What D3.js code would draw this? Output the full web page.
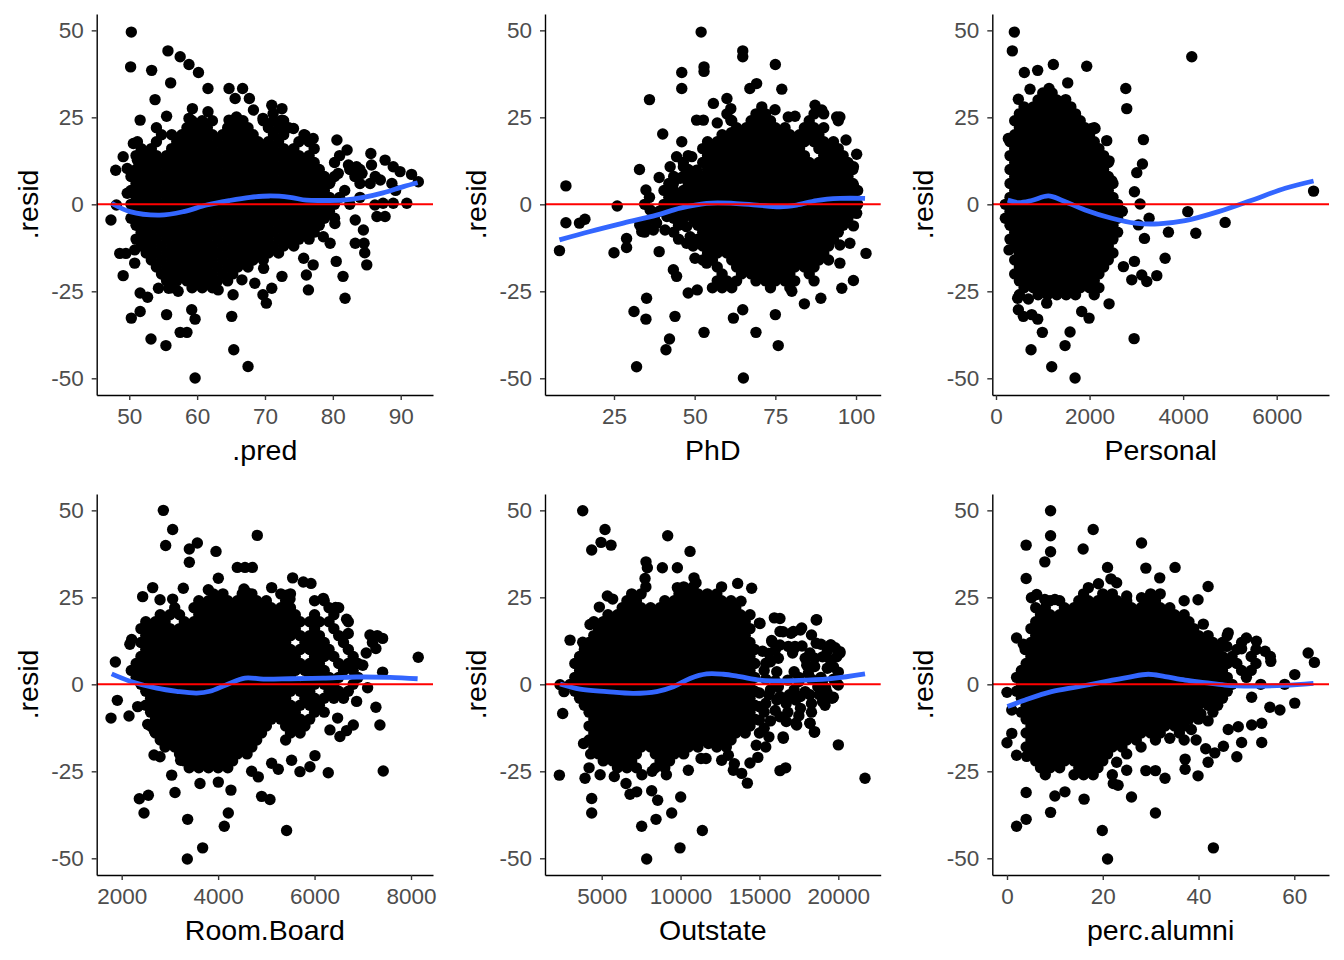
<!DOCTYPE html>
<html><head><meta charset="utf-8">
<script src="https://cdn.jsdelivr.net/npm/d3@7"></script>
<style>
body{margin:0;background:#fff}
svg{display:block}
text{font-family:"Liberation Sans",Arial,Helvetica,sans-serif}
</style>
</head><body>
<svg id="chart" width="1344" height="960"></svg>
<script>
// ---------- data ----------
const residTicks = [-50, -25, 0, 25, 50];

// .pred panel
const predTicks = [50, 60, 70, 80, 90];
const predPoints = [[50.3,49.5],[50.2,39.5],[55.7,44.1],[57.5,42.4],[58.8,40.2],[60.2,37.9],[53.3,38.5],[56.1,34.9],[53.8,30.1],[61.6,33.3],[64.7,33.3],[66.7,33.3],[65.6,30.4],[67.7,30.4],[51.6,24.2],[55.5,25.3],[54.0,22.0],[59.3,27.5],[61.6,26.6],[58.8,24.7],[64.7,24.2],[65.8,25.1],[68.3,27.1],[69.7,24.7],[71.0,28.5],[72.5,27.5],[71.2,26.1],[72.5,24.2],[74.2,21.8],[75.9,19.9],[77.1,18.9],[80.6,18.5],[82.1,15.6],[85.6,14.6],[85.7,11.3],[87.7,12.7],[88.9,10.8],[89.9,9.4],[91.6,8.6],[92.6,6.5],[90.9,0.3],[86.5,-3.5],[87.7,-3.5],[83.3,-4.5],[84.5,-7.4],[85.0,-17.4],[83.3,-11.2],[84.6,-11.2],[84.7,-13.9],[81.5,-20.7],[81.8,-27.0],[80.5,-16.4],[78.6,-9.3],[79.6,-11.2],[76.1,-20.3],[76.4,-24.6],[77.1,-17.4],[75.7,-15.5],[72.5,-20.7],[70.2,-28.4],[69.7,-26.0],[71.0,-24.1],[68.5,-22.7],[69.8,-18.4],[67.5,-46.6],[59.7,-49.9],[65.4,-41.8],[65.1,-32.2],[66.6,-21.7],[65.3,-26.0],[61.6,-21.7],[63.1,-24.6],[59.7,-33.0],[59.2,-30.3],[58.5,-36.8],[57.5,-36.8],[55.5,-31.7],[55.4,-40.6],[53.2,-38.7],[50.3,-32.7],[51.6,-30.8],[51.6,-25.5],[52.7,-26.7],[49.1,-20.5],[48.6,-14.1],[49.5,-14.1],[50.8,-13.1],[50.8,-16.9],[47.3,-4.5],[48.1,-0.2],[49.7,3.2],[48.0,9.8],[49.1,13.7],[49.7,10.3],[50.6,17.5],[51.2,18.0],[51.2,12.7],[54.3,-24.1],[55.8,-24.1],[57.2,-25.0],[55.3,-20.7],[79.6,6.5],[80.8,8.9],[82.3,11.3],[83.5,10.8],[84.3,8.9],[87.0,7.0],[88.7,6.0],[87.4,0.3],[88.9,0.3],[86.2,-0.2],[78.1,-1.6],[80.3,-5.5]];
const predRows = [
 [24,[59.25,60.75,62.25,65.25,66.75,69.75,71.25,72.75]],
 [22,[58.5,60,61.5,64.5,66,67.5,70.5,72,73.5]],
 [20,[54.75,56.25,57.75,59.25,60.75,62.25,63.75,65.25,66.75,68.25,71.25,72.75,75.75]],
 [18,[54,57,58.5,60,61.5,63,64.5,66,67.5,69,70.5,72,75,76.5]],
 [16,[51.75,53.25,56.25,57.75,59.25,60.75,62.25,63.75,65.25,66.75,68.25,69.75,71.25,72.75,74.25,77.25]],
 [14,[51,52.5,54,55.5,57,58.5,60,61.5,63,64.5,66,67.5,69,70.5,72,73.5,75,76.5,81]],
 [12,[51.75,53.25,54.75,56.25,57.75,59.25,60.75,62.25,63.75,65.25,66.75,68.25,69.75,71.25,72.75,74.25,75.75,77.25,80.25]],
 [10,[51,52.5,54,55.5,57,58.5,60,61.5,63,64.5,66,67.5,69,70.5,72,73.5,75,76.5,78,82.5,84]],
 [8,[50.25,51.75,53.25,54.75,56.25,57.75,59.25,60.75,62.25,63.75,65.25,66.75,68.25,69.75,71.25,72.75,74.25,75.75,77.25,78.75,80.25,83.25,86.25]],
 [6,[51,52.5,54,55.5,57,58.5,60,61.5,63,64.5,66,67.5,69,70.5,72,73.5,75,76.5,78,79.5,84,85.5]],
 [4,[50.25,51.75,53.25,54.75,56.25,57.75,59.25,60.75,62.25,63.75,65.25,66.75,68.25,69.75,71.25,72.75,74.25,75.75,77.25,78.75,81.75,89.25]],
 [2,[51,52.5,54,55.5,57,58.5,60,61.5,63,64.5,66,67.5,69,70.5,72,73.5,75,76.5,78,79.5,81,84]],
 [0,[50.25,51.75,53.25,54.75,56.25,57.75,59.25,60.75,62.25,63.75,65.25,66.75,68.25,69.75,71.25,72.75,74.25,75.75,77.25,78.75,80.25,82.5]],
 [-2,[51,52.5,54,55.5,57,58.5,60,61.5,63,64.5,66,67.5,69,70.5,72,73.5,75,76.5,78,79.5]],
 [-4,[50.25,51.75,53.25,54.75,56.25,57.75,59.25,60.75,62.25,63.75,65.25,66.75,68.25,69.75,71.25,72.75,74.25,75.75,77.25,78.75,80.25]],
 [-6,[51,52.5,54,55.5,57,58.5,60,61.5,63,64.5,66,67.5,69,70.5,72,73.5,75,76.5,78]],
 [-8,[51.75,53.25,54.75,56.25,57.75,59.25,60.75,62.25,63.75,65.25,66.75,68.25,69.75,71.25,72.75,74.25,75.75,77.25]],
 [-10,[51,52.5,54,55.5,57,58.5,60,61.5,63,64.5,66,67.5,69,70.5,72,73.5,75,76.5]],
 [-12,[51.75,53.25,54.75,56.25,57.75,59.25,60.75,62.25,63.75,65.25,66.75,68.25,69.75,71.25,72.75,74.25]],
 [-14,[52.5,54,55.5,57,58.5,60,61.5,63,64.5,66,67.5,69,70.5,72]],
 [-16,[53.25,54.75,56.25,57.75,59.25,60.75,62.25,63.75,65.25,66.75,68.25,69.75]],
 [-18,[54,55.5,57,58.5,60,61.5,63,64.5,66,67.5]],
 [-20,[54.75,56.25,57.75,59.25,60.75,62.25,63.75,65.25]],
 [-22,[55.5,57,58.5,60,61.5,63,64.5]],
 [-24,[56.25,59.25,60.75,62.25]]
];
const predSmooth = [[47.4,0.3],[50.1,-2.1],[54.5,-3.1],[58.0,-2.1],[61.4,-0.2],[64.8,1.1],[67.8,2.0],[70.7,2.4],[73.7,2.0],[76.1,1.2],[78.6,1.1],[81.5,1.2],[84.5,2.0],[87.4,3.3],[90.4,5.1],[92.5,6.2]];

// PhD panel
const phdTicks = [25, 50, 75, 100];
const phdPoints = [[52.0,49.5],[64.9,44.1],[64.9,42.4],[52.9,39.5],[52.9,38.2],[75.0,40.2],[46.0,37.9],[46.0,33.3],[67.1,33.3],[69.2,34.7],[77.0,33.1],[36.0,30.1],[40.1,20.2],[46.0,18.0],[32.9,10.0],[39.0,7.7],[34.9,4.1],[41.8,4.1],[10.1,5.3],[26.0,-0.5],[10.1,-5.3],[14.3,-5.4],[16.0,-4.3],[8.1,-13.3],[25.0,-13.9],[28.9,-9.8],[28.9,-12.4],[39.0,-13.6],[33.1,-5.4],[33.6,-7.8],[37.2,-7.4],[36.2,-1.6],[43.4,-18.8],[44.4,-20.7],[48.0,-25.5],[50.8,-24.6],[35.1,-27.0],[34.9,-33.0],[31.2,-30.8],[43.9,-32.2],[42.2,-38.7],[41.1,-41.8],[32.0,-46.7],[52.9,-36.8],[62.0,-32.7],[64.9,-30.3],[69.0,-36.8],[65.1,-49.9],[75.9,-40.6],[75.0,-31.7],[84.0,-28.6],[89.1,-27.0],[80.1,-25.0],[95.6,-24.1],[99.2,-21.9],[103.1,-14.1],[55.8,29.0],[60.0,30.4],[61.2,27.5],[50.6,24.2],[52.7,24.2],[57.0,23.4],[61.2,24.2],[61.4,20.6],[70.8,28.0],[74.9,27.2],[70.3,25.1],[87.3,28.5],[89.4,27.1],[94.0,25.1],[95.0,25.1],[79.0,25.1],[81.1,25.3],[96.9,18.5],[100.2,14.4],[99.2,10.8],[99.2,5.5],[100.2,-2.6],[99.2,-6.2],[98.1,-11.2],[95.0,-11.7],[95.0,-16.9],[49.1,13.7],[46.5,10.8],[44.4,13.7],[42.4,10.8],[50.6,9.8],[51.1,6.0],[45.5,7.5],[43.4,6.0],[38.2,-5.4],[40.8,-7.4],[35.1,-5.4],[41.4,-3.5],[47.5,-11.2],[50.1,-15.5],[53.7,-16.9],[47.5,-6.4],[48.6,-9.3],[50.6,-5.4]];
const phdRows = [
 [26,[60,69,72,87,90]],
 [24,[61.5,67.5,70.5,73.5,85.5,94.5]],
 [22,[63,66,69,72,75,78,84,87,90]],
 [20,[58.5,61.5,64.5,67.5,70.5,73.5,76.5,79.5,82.5,85.5,88.5]],
 [18,[54,57,60,63,66,69,72,75,78,81,84,87,90,93]],
 [16,[52.5,55.5,58.5,61.5,64.5,67.5,70.5,73.5,76.5,79.5,82.5,88.5,91.5,94.5]],
 [14,[48,54,57,60,63,66,69,72,75,78,81,84,90,93,96]],
 [12,[46.5,52.5,55.5,58.5,61.5,64.5,67.5,70.5,73.5,76.5,79.5,82.5,85.5,88.5,91.5,94.5,97.5]],
 [10,[48,54,57,60,63,66,69,72,75,78,81,84,87,90,93,96,99]],
 [8,[43.5,46.5,49.5,52.5,55.5,58.5,61.5,64.5,67.5,70.5,73.5,76.5,79.5,82.5,85.5,88.5,91.5,94.5,97.5]],
 [6,[42,48,51,54,57,60,63,66,69,72,75,78,81,84,87,90,93,96,99]],
 [4,[40.5,43.5,46.5,49.5,52.5,55.5,58.5,61.5,64.5,67.5,70.5,73.5,76.5,79.5,82.5,85.5,88.5,91.5,94.5,97.5,100.5]],
 [2,[36,42,45,48,51,54,57,60,63,66,69,72,75,78,81,84,87,90,93,96,99]],
 [0,[34.5,40.5,43.5,46.5,49.5,52.5,55.5,58.5,61.5,64.5,67.5,70.5,73.5,76.5,79.5,82.5,85.5,88.5,91.5,94.5,97.5,100.5]],
 [-2,[39,42,45,48,51,54,57,60,63,66,69,72,75,78,81,84,87,90,93,96,99]],
 [-4,[37.5,43.5,46.5,49.5,52.5,55.5,58.5,61.5,64.5,67.5,70.5,73.5,76.5,79.5,82.5,85.5,88.5,91.5,94.5,97.5]],
 [-6,[33,45,51,54,57,60,63,66,69,72,75,78,81,84,87,90,93,96]],
 [-8,[34.5,43.5,52.5,55.5,58.5,61.5,64.5,67.5,70.5,73.5,76.5,79.5,82.5,85.5,88.5,91.5,94.5]],
 [-10,[45,51,54,57,60,63,66,69,72,75,78,81,84,87,90,93]],
 [-12,[49.5,52.5,55.5,58.5,61.5,64.5,67.5,70.5,73.5,76.5,79.5,82.5,85.5,88.5,91.5]],
 [-14,[54,57,60,63,66,69,72,75,78,81,84,87,90]],
 [-16,[52.5,55.5,61.5,64.5,67.5,70.5,73.5,76.5,79.5,82.5,85.5,88.5,91.5]],
 [-18,[57,63,66,69,72,75,78,81,84,87]],
 [-20,[58.5,64.5,67.5,70.5,73.5,76.5,79.5,85.5]],
 [-22,[57,60,63,69,72,75,78,81,87]],
 [-24,[55.5,58.5,61.5,73.5,79.5]]
];
const phdSmooth = [[8.1,-10.2],[17.6,-7.8],[27.9,-5.4],[38.2,-3.1],[45.5,-1.1],[53.7,0.3],[62.0,0.3],[69.2,-0.2],[76.4,-0.7],[81.6,-0.2],[87.8,1.1],[95.0,1.7],[102.8,1.7]];

// Personal panel
const personalTicks = [0, 2000, 4000, 6000];
const personalPoints = [[392,49.5],[349,44.1],[606,37.9],[891,38.5],[1226,40.2],[1939,39.7],[727,33.1],[1134,33.3],[1533,34.9],[478,30.2],[1490,30.1],[2774,33.3],[2795,27.5],[4185,42.4],[3151,18.6],[3130,11.6],[3009,9.1],[2959,3.6],[3080,0.1],[3273,-4.0],[3686,-8.0],[4100,-2.1],[4271,-8.3],[4898,-5.2],[6788,3.8],[3615,-15.5],[3437,-20.5],[3223,-22.2],[3116,-20.3],[2959,-16.4],[2902,-21.7],[2724,-17.9],[2417,-28.6],[2952,-38.6],[1583,-36.7],[1476,-40.6],[1191,-46.7],[1690,-49.9],[749,-41.8],[991,-36.8],[478,-30.3],[585,-32.2],[763,-31.7],[891,-33.0],[1832,-30.8],[1989,-32.7],[463,-27.0],[692,-27.2],[1084,-28.4],[278,-13.1],[264,18.9],[3044,-5.9],[3173,-9.8],[2367,18.3],[2417,12.5],[2474,6.8],[2046,21.8],[2117,21.8],[1704,24.4]];
const personalRows = [
 [32,[1000,1200]],
 [30,[900,1100,1300]],
 [28,[600,800,1000,1200,1400,1600]],
 [26,[500,700,900,1100,1300,1500,1700]],
 [24,[400,600,800,1000,1200,1400,1600,1800]],
 [22,[500,700,900,1100,1300,1500,1700,1900,2100]],
 [20,[400,600,800,1000,1200,1400,1600,1800,2000]],
 [18,[300,500,700,900,1100,1300,1500,1700,1900,2100]],
 [16,[400,600,800,1000,1200,1400,1600,1800,2000,2200]],
 [14,[300,500,700,900,1100,1300,1500,1700,1900,2100,2300]],
 [12,[400,600,800,1000,1200,1400,1600,1800,2000,2200,2400]],
 [10,[300,500,700,900,1100,1300,1500,1700,1900,2100,2300]],
 [8,[400,600,800,1000,1200,1400,1600,1800,2000,2200,2400]],
 [6,[300,500,700,900,1100,1300,1500,1700,1900,2100,2300,2500]],
 [4,[400,600,800,1000,1200,1400,1600,1800,2000,2200,2400]],
 [2,[300,500,700,900,1100,1300,1500,1700,1900,2100,2300,2500]],
 [0,[200,400,600,800,1000,1200,1400,1600,1800,2000,2200,2400,2600]],
 [-2,[300,500,700,900,1100,1300,1500,1700,1900,2100,2300,2500,2700]],
 [-4,[200,400,600,800,1000,1200,1400,1600,1800,2000,2200,2400,2600]],
 [-6,[300,500,700,900,1100,1300,1500,1700,1900,2100,2300,2500]],
 [-8,[400,600,800,1000,1200,1400,1600,1800,2000,2200,2400,2600]],
 [-10,[300,500,700,900,1100,1300,1500,1700,1900,2100,2300,2500]],
 [-12,[400,600,800,1000,1200,1400,1600,1800,2000,2200,2400]],
 [-14,[500,700,900,1100,1300,1500,1700,1900,2100,2300,2500]],
 [-16,[400,600,800,1000,1200,1400,1600,1800,2000,2200,2400]],
 [-18,[500,700,900,1100,1300,1500,1700,1900,2100,2300]],
 [-20,[400,600,800,1000,1200,1400,1600,1800,2000,2200]],
 [-22,[500,700,900,1100,1300,1500,1700,1900,2100]],
 [-24,[600,800,1000,1200,1400,1600,1800,2000,2200]],
 [-26,[500,900,1100,1300,1500,1700,2100]]
];
const personalSmooth = [[250,1.2],[478,0.5],[763,1.1],[1119,2.4],[1404,1.2],[1904,-1.6],[2474,-4.0],[2973,-5.4],[3472,-5.6],[4043,-4.7],[4756,-2.1],[5469,1.2],[6182,4.6],[6788,6.7]];

// Room.Board panel
const roomTicks = [2000, 4000, 6000, 8000];
const roomPoints = [[2864,50.0],[3057,44.5],[2912,39.9],[3403,38.9],[3569,40.6],[3403,35.1],[3956,38.2],[4812,42.8],[4398,33.6],[4557,33.6],[4709,33.6],[4004,30.5],[2643,27.8],[2435,25.2],[2795,24.3],[3057,24.5],[3278,27.6],[3797,27.2],[4536,27.4],[4591,26.4],[5110,27.8],[5545,30.6],[5766,29.4],[5925,29.0],[5421,25.6],[5490,24.5],[6181,24.7],[6436,22.1],[6664,18.7],[6699,14.6],[7148,14.2],[7411,13.2],[7272,10.3],[8150,7.8],[7411,3.5],[7071,9.0],[1869,6.4],[2207,12.9],[2170,11.5],[1910,-4.6],[1779,-9.7],[2152,-9.1],[2332,-6.4],[7272,-6.6],[7355,-11.7],[7424,-24.9],[6284,-25.4],[5697,-25.1],[5904,-23.7],[6008,-20.5],[5524,-21.8],[5420,-42.0],[5075,-33.1],[4902,-32.2],[4695,-25.0],[4833,-26.6],[4266,-30.4],[4211,-37.0],[4128,-40.8],[3679,-47.0],[3361,-50.2],[3368,-38.8],[3106,-31.1],[3037,-26.1],[3624,-28.5],[4004,-28.1],[2553,-31.9],[2366,-32.9],[2463,-37.0],[3223,-21.8],[2670,-20.3],[2795,-20.8],[5110,-22.7],[5248,-24.4],[6478,-9.7],[6526,-15.0],[6664,-13.3],[6803,-11.7],[6319,-13.1],[6872,-4.9],[2540,-11.5],[2680,-13.5],[7000,5.5],[7100,-1.0]];
const roomRows = [
 [26,[3900,4100,4500,4700,5300,5500]],
 [24,[3600,3800,4000,4200,4400,4600,4800,5000,5400,6000,6200]],
 [22,[3100,3500,3700,3900,4100,4300,4500,4700,4900,5100,5300,5500,6300,6500]],
 [20,[2800,3000,3200,3600,3800,4000,4200,4400,4600,4800,5000,5200,5400,5600,6000,6400]],
 [18,[2500,2700,2900,3300,3500,3700,3900,4100,4300,4500,4700,4900,5100,5300,5500,5700,5900,6100,6300,6700]],
 [16,[2400,2600,2800,3000,3200,3400,3600,3800,4000,4200,4400,4600,4800,5000,5200,5400,5600,6000,6400]],
 [14,[2500,2700,2900,3100,3300,3500,3700,3900,4100,4300,4500,4700,4900,5100,5300,5500,5700,5900,6100,6500,7300]],
 [12,[2400,2600,2800,3000,3200,3400,3600,3800,4000,4200,4400,4600,4800,5000,5200,5400,5800,6000,6200,6600,7200]],
 [10,[2500,2700,2900,3100,3300,3500,3700,3900,4100,4300,4500,4700,4900,5100,5300,5500,5700,5900,6100,6300,6700]],
 [8,[2400,2600,2800,3000,3200,3400,3600,3800,4000,4200,4400,4600,4800,5000,5200,5400,5600,6000,6200,6400,6800]],
 [6,[2300,2500,2700,2900,3100,3300,3500,3700,3900,4100,4300,4500,4700,4900,5100,5300,5500,5700,5900,6100,6500,6700,6900]],
 [4,[2200,2400,2600,2800,3000,3200,3400,3600,3800,4000,4200,4400,4600,4800,5000,5200,5400,5600,5800,6000,6200,6600,6800]],
 [2,[2300,2500,2700,2900,3100,3300,3500,3700,3900,4100,4300,4500,4700,4900,5100,5300,5500,5900,6100,6300,6500,6900]],
 [0,[2400,2600,2800,3000,3200,3400,3600,3800,4000,4200,4400,4600,4800,5000,5200,5400,5600,5800,6000,6200,6400,6800]],
 [-2,[2500,2700,2900,3100,3300,3500,3700,3900,4100,4300,4500,4700,4900,5100,5300,5500,5700,5900,6300,6500,6700]],
 [-4,[2600,2800,3000,3200,3400,3600,3800,4000,4200,4400,4600,4800,5000,5200,5400,5800,6000,6200,6400,6600]],
 [-6,[2500,2700,2900,3100,3300,3500,3700,3900,4100,4300,4500,4700,4900,5100,5300,5500,5700,5900,6100]],
 [-8,[2600,2800,3000,3200,3400,3600,3800,4000,4200,4400,4600,4800,5000,5200,5400,5600,6000,6200]],
 [-10,[2700,2900,3100,3300,3500,3700,3900,4100,4300,4500,4700,4900,5100,5300,5500,5700,5900]],
 [-12,[2600,2800,3000,3200,3400,3600,3800,4000,4200,4400,4600,4800,5000,5400,5600,5800]],
 [-14,[2700,2900,3100,3300,3500,3700,3900,4100,4300,4500,4700,4900,5500,5700]],
 [-16,[2800,3000,3200,3400,3600,3800,4000,4200,4400,4600,4800,5400]],
 [-18,[2900,3100,3300,3500,3700,3900,4100,4300,4500,4700]],
 [-20,[3200,3400,3600,3800,4000,4200,4400,4600]],
 [-22,[3300,3500,3700,3900,4100,4300]],
 [-24,[3400,3600,3800,4000,4200]]
];
const roomSmooth = [[1793,3.0],[2173,0.9],[2726,-1.1],[3140,-2.0],[3555,-2.5],[3831,-2.0],[4177,-0.1],[4557,1.8],[4937,1.5],[5490,1.6],[6181,1.8],[6872,2.1],[7563,2.0],[8137,1.6]];

// Outstate panel
const outTicks = [5000, 10000, 15000, 20000];
const outPoints = [[3796,49.9],[5211,44.5],[4366,38.6],[4958,40.8],[5592,40.0],[9184,42.7],[10600,38.2],[7810,35.2],[7895,33.5],[8846,33.5],[9797,33.5],[7747,30.4],[10853,30.6],[10980,29.2],[9797,27.8],[13621,29.0],[14508,27.6],[5359,25.4],[5697,24.5],[4852,22.2],[4260,17.2],[5063,17.8],[2993,12.7],[3796,12.1],[13832,23.9],[14403,20.0],[15037,17.5],[15945,19.1],[18629,18.6],[16305,15.2],[17150,15.2],[17678,16.2],[15776,12.6],[16833,10.9],[17256,10.9],[19538,11.3],[20108,9.0],[19897,0.3],[19686,-3.7],[19157,-6.0],[18206,-11.2],[18480,-13.8],[17361,-11.7],[16516,-15.5],[20002,-17.4],[16305,-24.8],[16664,-24.0],[21693,-27.0],[14234,-28.4],[13875,-25.6],[13347,-24.7],[13410,-22.8],[12607,-21.8],[13030,-20.4],[11297,-21.3],[11614,-21.3],[11762,-17.0],[10494,-24.7],[10008,-32.4],[9437,-37.0],[11382,-42.0],[9965,-47.0],[7852,-50.2],[7535,-40.8],[8444,-38.8],[6796,-31.6],[7219,-30.9],[8169,-30.6],[8550,-33.3],[6542,-28.5],[4366,-32.8],[4366,-37.0],[3944,-27.0],[2317,-26.1],[2528,-8.4],[2613,-2.1],[2359,-0.1],[9100,-26.0],[8200,-25.0],[7550,-26.0],[5800,-26.5],[4900,-26.0],[4200,-24.0],[3850,-17.0],[4300,-20.0],
 [16300,18.9],[18600,18.5],[15000,17.6],[16500,15.1],[17600,15.6],[17000,14.7],[18300,14.2],[18600,11.8],[15800,12.2],[16300,11.3],[17200,10.3],[19500,11.3],[20100,9.4],[15600,8.9],[16200,7.5],[15700,6.5],[17900,7.5],[19000,7.9],[19500,7.0],[19900,7.9],[18500,5.1],[19300,4.6],[16100,3.6],[17200,3.6],[18100,3.2],[15300,4.0],[18700,-0.7],[20000,-0.2],[19200,-1.1],[17200,-1.6],[17900,-2.1],[16200,-0.7],[15700,-1.6],[15400,1.5],[16000,1.0],[16800,1.2],[17500,0.8],[18300,1.5],[19000,1.0],[19700,1.5],[19600,-4.0],[19000,-5.0],[18300,-5.5],[17300,-4.5],[16700,-5.5],[17600,-6.9],[16100,-4.5],[15400,-5.5],[15000,-6.4],[16300,-9.3],[16700,-10.7],[17300,-11.2],[18200,-11.2],[18500,-13.6],[15000,-10.3],[15300,-12.6],[15600,-15.1],[16500,-15.1],
 [15200,9.5],[16000,9.8],[15400,6.0],[17700,11.0],[18200,9.0],[18900,11.5],[19300,9.5],[19800,10.5],[18000,5.5],[18500,7.5],[19700,5.0],[20000,3.5],[17500,2.0],[18900,2.0],[17100,9.0],[15000,-2.5],[15600,-3.0],[16300,-3.5],[16900,-3.0],[17600,-3.5],[18200,-3.0],[18800,-3.0],[19300,-2.5],[15300,-8.0],[16000,-7.5],[16800,-8.0],[17500,-9.0],[18300,-8.0],[15700,-10.5],[15000,-14.0],[14800,-17.5],[15400,-18.0],[14900,-21.0],[14400,-22.6]];
const outRows = [
 [28,[7800,10200,10800,12600]],
 [26,[6900,7500,9900,10500,11100,11700,12300]],
 [24,[6600,7200,9000,9600,10200,10800,11400,12000,12600,13200]],
 [22,[6300,6900,7500,8100,8700,9300,9900,10500,11100,11700,12300,12900,13500]],
 [20,[5400,6000,6600,7200,7800,8400,9000,9600,10200,10800,11400,12000,12600,13200,13800]],
 [18,[4500,5100,5700,6300,6900,7500,8100,8700,9300,9900,10500,11100,11700,12300,12900,13500,14100]],
 [16,[4800,5400,6000,6600,7200,7800,8400,9000,9600,10200,10800,11400,12000,12600,13200,13800,14400]],
 [14,[4500,5100,5700,6300,6900,7500,8100,8700,9300,9900,10500,11100,11700,12300,12900,13500,14100]],
 [12,[4200,4800,5400,6000,6600,7200,7800,8400,9000,9600,10200,10800,11400,12000,12600,13200,13800,14400]],
 [10,[3900,4500,5100,5700,6300,6900,7500,8100,8700,9300,9900,10500,11100,11700,12300,12900,13500,14100,14700]],
 [8,[3600,4200,4800,5400,6000,6600,7200,7800,8400,9000,9600,10200,10800,11400,12000,12600,13200,13800,14400]],
 [6,[3300,3900,4500,5100,5700,6300,6900,7500,8100,8700,9300,9900,10500,11100,11700,12300,12900,13500,14100,14700]],
 [4,[3600,4200,4800,5400,6000,6600,7200,7800,8400,9000,9600,10200,10800,11400,12000,12600,13200,13800,14400]],
 [2,[3300,3900,4500,5100,5700,6300,6900,7500,8100,8700,9300,9900,10500,11100,11700,12300,12900,13500,14100,14700]],
 [0,[3000,3600,4200,4800,5400,6000,6600,7200,7800,8400,9000,9600,10200,10800,11400,12000,12600,13200,13800,14400]],
 [-2,[3300,3900,4500,5100,5700,6300,6900,7500,8100,8700,9300,9900,10500,11100,11700,12300,12900,13500,14100,14700]],
 [-4,[3600,4200,4800,5400,6000,6600,7200,7800,8400,9000,9600,10200,10800,11400,12000,12600,13200,13800,14400]],
 [-6,[3900,4500,5100,5700,6300,6900,7500,8100,8700,9300,9900,10500,11100,11700,12300,12900,13500,14100,14700]],
 [-8,[4200,4800,5400,6000,6600,7200,7800,8400,9000,9600,10200,10800,11400,12000,12600,13200,13800,14400]],
 [-10,[4500,5100,5700,6300,6900,7500,8100,8700,9300,9900,10500,11100,11700,12300,12900,13500,14100,14700]],
 [-12,[4200,4800,5400,6000,6600,7200,7800,8400,9000,9600,10200,10800,11400,12000,12600,13200,13800,14400]],
 [-14,[4500,5100,5700,6300,6900,7500,8100,8700,9300,9900,10500,11100,11700,12300,12900,13500,14100]],
 [-16,[4200,4800,5400,6000,6600,7200,7800,8400,9000,9600,10200,10800,11400,12000,12600,13200]],
 [-18,[4500,5100,5700,6300,6900,7500,8100,8700,9300,9900,10500,11100,12300,12900]],
 [-20,[4800,5400,6000,6600,7200,8400,9000,9600,10200]],
 [-22,[5100,5700,6300,6900,8700,9300]],
 [-24,[6000,6600,7200,8400,9000]]
];
const outSmooth = [[2359,0.1],[3627,-1.4],[5317,-2.1],[7007,-2.6],[8486,-2.1],[9543,-0.7],[10600,1.7],[11656,3.0],[12712,2.9],[13769,2.2],[15037,1.2],[16305,1.0],[17995,1.2],[19686,1.7],[21693,3.0]];

// perc.alumni panel
const alumniTicks = [0, 20, 40, 60];
const alumniPoints = [[9.1,49.9],[9.1,42.7],[9.1,38.1],[7.9,35.2],[4.0,40.0],[18.0,44.5],[15.9,38.9],[28.1,40.6],[29.0,33.4],[35.1,33.6],[21.0,33.6],[4.0,30.4],[31.9,30.6],[42.0,28.1],[39.9,24.3],[41.0,17.3],[28.1,24.9],[21.7,30.3],[22.9,29.2],[19.1,28.9],[17.0,27.8],[25.0,25.4],[5.1,24.9],[6.2,25.8],[7.9,24.4],[10.0,24.4],[2.0,13.3],[3.4,11.5],[3.8,10.0],[0.0,-2.3],[1.0,-7.4],[1.0,-14.1],[0.0,-16.8],[2.0,-20.4],[4.1,-20.7],[4.0,-31.1],[2.0,-40.8],[4.0,-38.8],[9.1,-36.8],[10.0,-32.1],[12.1,-30.9],[16.1,-33.0],[19.9,-42.0],[21.0,-50.2],[31.0,-37.0],[26.0,-32.4],[23.2,-29.0],[22.2,-28.5],[22.9,-22.4],[25.0,-24.7],[29.0,-24.8],[31.0,-24.8],[33.0,-27.0],[34.0,-15.5],[37.2,-21.5],[37.2,-24.4],[39.9,-26.3],[43.1,-47.0],[42.0,-22.4],[43.4,-19.7],[45.2,-17.8],[48.0,-20.8],[49.0,-16.7],[48.3,-12.2],[46.2,-13.0],[51.1,-11.7],[53.2,-11.2],[53.2,-16.7],[54.9,-6.6],[57.0,-7.4],[51.1,-3.7],[60.1,-5.4],[60.1,2.8],[58.0,0.0],[62.9,9.0],[64.2,6.3],[53.9,9.5],[55.1,6.6],[52.1,12.4],[50.0,13.3],[49.0,10.2],[46.2,14.8],[45.9,10.9],[40.5,-8.5],[42.0,-10.5],[41.5,-18.5],[38.5,-13.0],[39.5,-16.0]];
const alumniRows = [
 [26,[16,20,22,30,32]],
 [24,[9,11,15,17,19,21,23,25,29,31,37]],
 [22,[6,8,12,14,16,18,20,22,24,26,28,30,32,34]],
 [20,[7,9,11,13,15,17,19,21,23,25,27,29,31,33,35,37]],
 [18,[6,8,10,12,14,16,18,20,22,24,26,28,30,32,34,36,38]],
 [16,[5,7,9,11,13,15,17,19,21,23,25,27,29,31,33,35,37,39]],
 [14,[6,8,10,12,14,16,18,20,22,24,26,28,30,32,34,36,38,40,42,46]],
 [12,[5,7,9,11,13,15,17,19,21,23,25,27,29,31,33,35,37,39,41,43,45,49]],
 [10,[4,6,8,10,12,14,16,18,20,22,24,26,28,30,32,34,36,38,40,42,44,48,52]],
 [8,[5,7,9,11,13,15,17,19,21,23,25,27,29,31,33,35,37,39,41,43,45,47,51,55]],
 [6,[4,6,8,10,12,14,16,18,20,22,24,26,28,30,32,34,36,38,40,42,44,46,48,52]],
 [4,[3,5,7,9,11,13,15,17,19,21,23,25,27,29,31,33,35,37,39,41,43,45,49,51]],
 [2,[2,4,6,8,10,12,14,16,18,20,22,24,26,28,30,32,34,36,38,40,42,44,46,50]],
 [0,[3,5,7,9,11,13,15,17,19,21,23,25,27,29,31,33,35,37,39,41,43,45,47,53]],
 [-2,[2,4,6,8,10,12,14,16,18,20,22,24,26,28,30,32,34,36,38,40,42,44,46]],
 [-4,[3,5,7,9,11,13,15,17,19,21,23,25,27,29,31,33,35,37,39,41,43,45]],
 [-6,[4,6,8,10,12,14,16,18,20,22,24,26,28,30,32,34,36,38,40,42,44]],
 [-8,[3,5,7,9,11,13,15,17,19,21,23,25,27,29,31,33,35,37,39,43]],
 [-10,[4,6,8,10,12,14,16,18,20,22,24,26,28,30,32,34,36,38,40]],
 [-12,[5,7,9,11,13,15,17,19,21,23,25,27,29,31,33,35,37]],
 [-14,[4,6,8,10,12,14,16,18,20,22,24,26,28,30,32,36]],
 [-16,[5,7,9,11,13,15,17,19,21,23,25,27,31,37]],
 [-18,[4,6,8,10,12,14,16,18,20,22,24,28]],
 [-20,[5,7,9,11,13,15,17,19,21,25]],
 [-22,[6,8,10,12,14,16,18,20]],
 [-24,[7,9,11,15,17,19]],
 [-26,[8,14,16,18,22]]
];
const alumniSmooth = [[0.1,-6.4],[3.8,-4.5],[9.3,-2.1],[14.9,-0.7],[20.5,0.8],[25.3,2.0],[29.5,2.9],[33.0,2.2],[37.2,1.2],[41.3,0.5],[45.5,-0.2],[51.1,-0.5],[58.0,-0.3],[64.0,0.3]];

// ---------- layout ----------
const colLeft = [96.7, 545, 992.3], colRight = [433, 880.7, 1329];
const rowTop = [14, 494], rowBottom = [395, 875];
const residDomain = [-54.8, 54.7];

const panels = [
  {label: ".pred",       ticks: predTicks,     domain: [45.2, 94.76],  pts: predPoints,     rows: predRows,     smooth: predSmooth,     col: 0, row: 0},
  {label: "PhD",         ticks: phdTicks,      domain: [3.62, 107.65], pts: phdPoints,      rows: phdRows,      smooth: phdSmooth,      col: 1, row: 0},
  {label: "Personal",    ticks: personalTicks, domain: [-79, 7118],    pts: personalPoints, rows: personalRows, smooth: personalSmooth, col: 2, row: 0},
  {label: "Room.Board",  ticks: roomTicks,     domain: [1482, 8456],   pts: roomPoints,     rows: roomRows,     smooth: roomSmooth,     col: 0, row: 1},
  {label: "Outstate",    ticks: outTicks,      domain: [1406, 22688],  pts: outPoints,      rows: outRows,      smooth: outSmooth,      col: 1, row: 1},
  {label: "perc.alumni", ticks: alumniTicks,   domain: [-3.07, 67.25], pts: alumniPoints,   rows: alumniRows,   smooth: alumniSmooth,   col: 2, row: 1}
];

const svg = d3.select("#chart");
svg.append("rect").attr("width", 1344).attr("height", 960).attr("fill", "#fff");

panels.forEach(p => {
  const x0 = colLeft[p.col], x1 = colRight[p.col];
  const y0 = rowTop[p.row], y1 = rowBottom[p.row];
  const x = d3.scaleLinear().domain(p.domain).range([x0, x1]);
  const y = d3.scaleLinear().domain(residDomain).range([y1, y0]);
  const g = svg.append("g");

  const all = p.pts.concat(p.rows.flatMap(([r, xs]) => xs.map(v => [v, r])));
  g.append("g").selectAll("circle").data(all).join("circle")
    .attr("cx", d => x(d[0])).attr("cy", d => y(d[1]))
    .attr("r", 5.7).attr("fill", "#000");

  const line = d3.line().x(d => x(d[0])).y(d => y(d[1])).curve(d3.curveCatmullRom.alpha(0.5));
  g.append("path").datum(p.smooth).attr("d", line)
    .attr("fill", "none").attr("stroke", "#3366FF").attr("stroke-width", 4.8);

  g.append("line").attr("x1", x0).attr("x2", x1).attr("y1", y(0)).attr("y2", y(0))
    .attr("stroke", "#FF0000").attr("stroke-width", 2);

  const xa = g.append("g").attr("transform", `translate(0,${y1})`)
    .call(d3.axisBottom(x).tickValues(p.ticks).tickSize(5).tickSizeOuter(0).tickPadding(8).tickFormat(d => String(d)));
  const ya = g.append("g").attr("transform", `translate(${x0},0)`)
    .call(d3.axisLeft(y).tickValues(residTicks).tickSize(5).tickSizeOuter(0).tickPadding(8).tickFormat(d => String(d)));
  [xa, ya].forEach(a => {
    a.select(".domain").attr("stroke", "#000").attr("stroke-width", 1.4);
    a.selectAll(".tick line").attr("stroke", "#333333").attr("stroke-width", 1.4);
    a.selectAll(".tick text").attr("fill", "#4D4D4D").attr("font-size", 22.5)
      .attr("font-family", '"Liberation Sans",Arial,Helvetica,sans-serif');
  });

  g.append("text").attr("x", (x0 + x1) / 2).attr("y", y1 + 65)
    .attr("text-anchor", "middle").attr("font-size", 28.5).attr("fill", "#000").text(p.label);
  g.append("text").attr("transform", `translate(${x0 - 59},${(y0 + y1) / 2}) rotate(-90)`)
    .attr("text-anchor", "middle").attr("font-size", 28.5).attr("fill", "#000").text(".resid");
});
</script>
</body></html>
